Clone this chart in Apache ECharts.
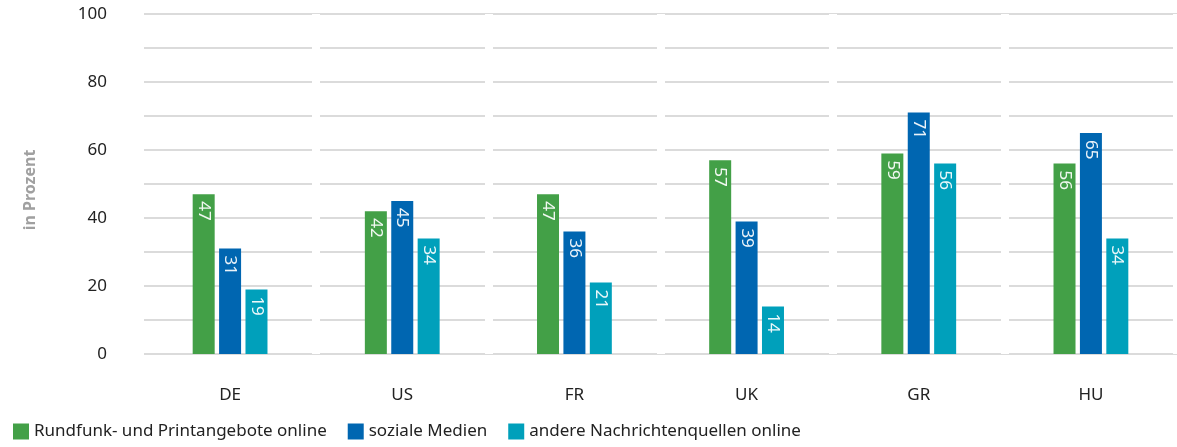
<!DOCTYPE html>
<html>
<head>
<meta charset="utf-8">
<script src="https://cdn.jsdelivr.net/npm/echarts@6/dist/echarts.min.js"></script>
<style>
  html, body { margin: 0; padding: 0; background: #fff; overflow: hidden; }
  #chart { width: 1177px; height: 447px; }
</style>
</head>
<body>
<div id="chart"></div>
<script>
var categories = ['DE', 'US', 'FR', 'UK', 'GR', 'HU']
var seriesNames = ['Rundfunk- und Printangebote online', 'soziale Medien', 'andere Nachrichtenquellen online']
var rundfunkData = [47, 42, 47, 57, 59, 56]
var sozialeData = [31, 45, 36, 39, 71, 65]
var andereData = [19, 34, 21, 14, 56, 34]
var colors = ['#43a047', '#0066b1', '#00a0bb']

var font = '"Noto Sans", "Open Sans", sans-serif'

var myChart = echarts.init(document.getElementById('chart'))

function barSeries(name, data, color) {
  return {
    name: name,
    type: 'bar',
    data: data,
    barWidth: 22,
    barGap: '20%',
    itemStyle: { color: color },
    label: {
      show: true,
      position: 'insideTop',
      rotate: -90,
      align: 'left',
      verticalAlign: 'middle',
      distance: 7,
      color: 'rgba(255,255,255,0.92)',
      fontSize: 17,
      fontFamily: font
    }
  }
}

var option = {
  animation: false,
  color: colors,
  grid: {
    left: 144,
    width: 1038,
    top: 14,
    bottom: 93
  },
  legend: {
    left: 8,
    bottom: 2,
    itemWidth: 16,
    itemHeight: 16,
    itemGap: 21,
    icon: 'rect',
    textStyle: { fontSize: 17, color: '#222', fontFamily: font }
  },
  xAxis: {
    type: 'category',
    data: categories,
    z: 1,
    axisLine: { show: false },
    axisTick: { show: false },
    axisLabel: { margin: 33, fontSize: 17, color: '#222', fontFamily: font },
    splitLine: {
      show: true,
      interval: function (index) { return index > 0 && index < categories.length },
      lineStyle: { color: '#fff', width: 8 }
    }
  },
  yAxis: {
    type: 'value',
    min: 0,
    max: 100,
    interval: 10,
    name: 'in Prozent',
    nameLocation: 'middle',
    nameGap: 106,
    nameTextStyle: { fontSize: 16, color: '#a0a0a0', fontWeight: 'bold', fontFamily: font, padding: [0, 12, 0, 0] },
    axisLine: { show: false },
    axisTick: { show: false },
    axisLabel: {
      margin: 37,
      fontSize: 17,
      color: '#222',
      fontFamily: font,
      formatter: function (v) { return v % 20 === 0 ? v : '' }
    },
    splitLine: { lineStyle: { color: '#cfcfcf', width: 1.5 } }
  },
  series: [
    barSeries(seriesNames[0], rundfunkData, colors[0]),
    barSeries(seriesNames[1], sozialeData, colors[1]),
    barSeries(seriesNames[2], andereData, colors[2])
  ]
}

myChart.setOption(option)
window.addEventListener('resize', function () { myChart.resize() })
</script>
</body>
</html>
